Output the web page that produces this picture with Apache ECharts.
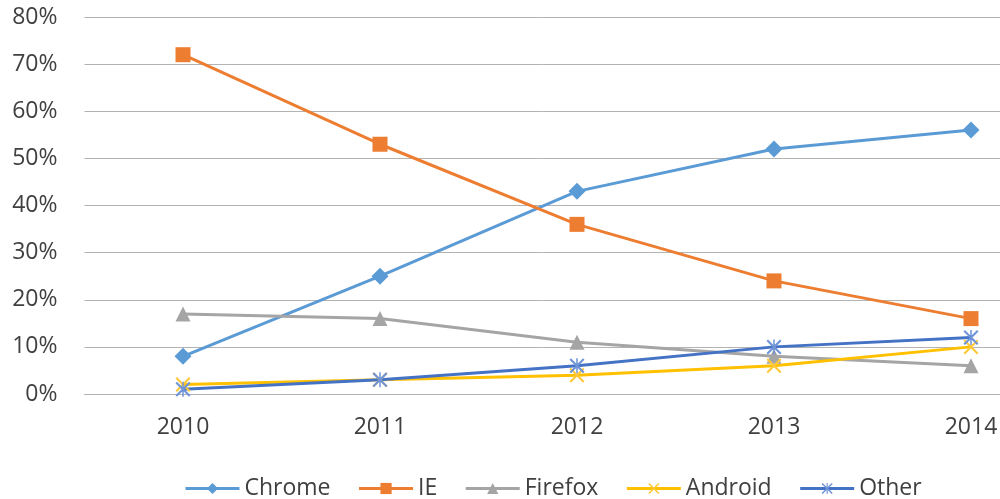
<!DOCTYPE html>
<html>
<head>
<meta charset="utf-8">
<script src="https://cdn.jsdelivr.net/npm/echarts@6/dist/echarts.min.js"></script>
<style>html,body{margin:0;padding:0;background:#fff}#c{width:1000px;height:499px}</style>
</head>
<body>
<div id="c"></div>
<script>
const years = ['2010', '2011', '2012', '2013', '2014'];
const chrome = [8, 25, 43, 52, 56];
const ie = [72, 53, 36, 24, 16];
const firefox = [17, 16, 11, 8, 6];
const android = [2, 3, 4, 6, 10];
const other = [1, 3, 6, 10, 12];
const yTicks = [0, 10, 20, 30, 40, 50, 60, 70, 80];

const X_PATH = 'path://M0,1 L1,0 L10,9 L9,10 Z M9,0 L10,1 L1,10 L0,9 Z';
const STAR_PATH = 'path://M0,1 L1,0 L10,9 L9,10 Z M9,0 L10,1 L1,10 L0,9 Z M4.5,0 L5.5,0 L5.5,10 L4.5,10 Z';
const FONT = '"Open Sans", sans-serif';
const TXT = '#404040';

function mk(name, data, color, symbol, size, symColor) {
  return {
    name, type: 'line', data,
    symbol, symbolSize: size,
    lineStyle: { color, width: 3 },
    itemStyle: { color: symColor || color },
    color,
    emphasis: { disabled: true },
    animation: false
  };
}

const chart = echarts.init(document.getElementById('c'));
chart.setOption({
  backgroundColor: '#fff',
  animation: false,
  grid: { left: 84.5, top: 17, width: 985, height: 377, containLabel: false, outerBoundsMode: 'none' },
  legend: {
    left: 179, top: 472,
    itemWidth: 54, itemHeight: 14, itemGap: 27,
    lineStyle: { width: 3 },
    textStyle: { fontFamily: FONT, fontSize: 23, color: TXT },
    data: ['Chrome', 'IE', 'Firefox', 'Android', 'Other']
  },
  xAxis: {
    type: 'category', data: years, boundaryGap: true,
    axisLine: { show: true, lineStyle: { color: '#b3b3b3', width: 1 } },
    axisTick: { show: false },
    axisLabel: { fontFamily: FONT, fontSize: 23, color: TXT, margin: 22 }
  },
  yAxis: {
    type: 'value', min: yTicks[0], max: yTicks[yTicks.length - 1], interval: 10,
    axisLine: { show: false }, axisTick: { show: false },
    splitLine: { lineStyle: { color: '#b3b3b3', width: 1 } },
    axisLabel: { fontFamily: FONT, fontSize: 23, color: TXT, margin: 27, formatter: v => v + '%' }
  },
  series: [
    mk('Chrome', chrome, '#5B9BD5', 'diamond', 17),
    mk('IE', ie, '#ED7D31', 'rect', 15),
    mk('Firefox', firefox, '#A5A5A5', 'triangle', 15),
    mk('Android', android, '#FFC000', X_PATH, 15, '#FFC839'),
    mk('Other', other, '#4472C4', STAR_PATH, 15, '#6F94D8')
  ]
});
</script>
</body>
</html>
